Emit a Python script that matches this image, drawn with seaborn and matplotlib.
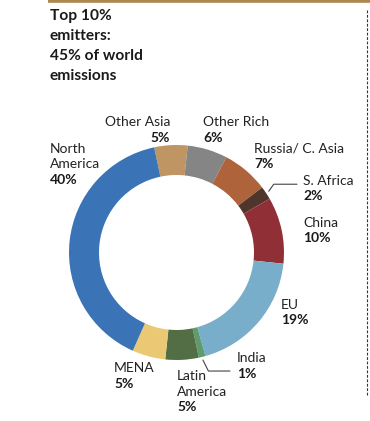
import numpy as np
import matplotlib
matplotlib.use("Agg")
import matplotlib.pyplot as plt
import seaborn as sns

# Data (shares of emissions of the top 10% emitters, clockwise from top)
regions = ["Other Asia", "Other Rich", "Russia/ C. Asia", "S. Africa", "China",
           "EU", "India", "Latin America", "MENA", "North America"]
shares = [5, 6, 7, 2, 10, 19, 1, 5, 5, 40]
colors = ["#bf9563", "#858585", "#ae633a", "#4f352b", "#902f35",
          "#78aec9", "#5f9a70", "#536d44", "#ebc974", "#3b74b6"]

title_lines = ["Top 10%", "emitters:", "45% of world", "emissions"]

# label text lines per region (name lines, then percentage)
label_lines = {
    "Other Asia": ["Other Asia"],
    "Other Rich": ["Other Rich"],
    "Russia/ C. Asia": ["Russia/ C. Asia"],
    "S. Africa": ["S. Africa"],
    "China": ["China"],
    "EU": ["EU"],
    "India": ["India"],
    "Latin America": ["Latin", "America"],
    "MENA": ["MENA"],
    "North America": ["North", "America"],
}

# layout (pixels): x anchor, first baseline, alignment
label_pos = {
    "Other Asia": (170, 126, "right"),
    "Other Rich": (203, 126, "left"),
    "Russia/ C. Asia": (254, 152.5, "left"),
    "S. Africa": (303, 185, "left"),
    "China": (303, 227, "left"),
    "EU": (281, 309, "left"),
    "India": (237, 362, "left"),
    "Latin America": (177, 380, "left"),
    "MENA": (114, 372, "left"),
    "North America": (49.5, 153, "left"),
}
# leader lines: elbow offset from wedge edge, end x
leaders = {"S. Africa": (5, -7, 297), "India": (5.5, 11, 230)}

W, H = 370, 421
cx, cy, r_out, r_in = 176.5, 252.5, 107.5, 77.5
start = 102
line_h = 15.5

sns.set_theme(style="white")
plt.rcParams["font.family"] = ["Lato", "DejaVu Sans"]

fig = plt.figure(figsize=(W / 100, H / 100), dpi=100)
fig.patch.set_facecolor("white")

over = fig.add_axes([0, 0, 1, 1])
over.set_xlim(0, W)
over.set_ylim(H, 0)
over.axis("off")
over.patch.set_visible(False)

ax = fig.add_axes([(cx - r_out) / W, (H - cy - r_out) / H, 2 * r_out / W, 2 * r_out / H])
wedges, _ = ax.pie(shares, colors=sns.color_palette(colors), startangle=start,
                   counterclock=False, radius=1,
                   wedgeprops=dict(width=(r_out - r_in) / r_out, linewidth=0))
ax.set_xlim(-1, 1)
ax.set_ylim(-1, 1)
ax.set_aspect("equal")

# decorations
over.plot([48, W], [1.2, 1.2], color="#ad8752", lw=2.6, solid_capstyle="butt")
over.plot([367, 367], [10, 396], color="#333333", lw=0.8, ls=(0, (2.5, 1.5)))

# title
for i, t in enumerate(title_lines):
    over.text(50, 20 + i * 20, t, fontsize=11.2, fontweight="bold",
              color="#1a1a1a", va="baseline", ha="left")

# labels
for name, share, w in zip(regions, shares, wedges):
    x, y0, ha = label_pos[name]
    lines = label_lines[name]
    for i, t in enumerate(lines):
        over.text(x, y0 + i * line_h, t, fontsize=10, color="#222222",
                  va="baseline", ha=ha)
    over.text(x, y0 + len(lines) * line_h, f"{share}%", fontsize=10,
              fontweight="bold", color="#1a1a1a", va="baseline", ha=ha)
    if name in leaders:
        mid = np.deg2rad((w.theta1 + w.theta2) / 2)
        sx = cx + 1.03 * r_out * np.cos(mid)
        sy = cy - 1.03 * r_out * np.sin(mid)
        dx, dy, ex = leaders[name]
        over.plot([sx, sx + dx, ex], [sy, sy + dy, sy + dy], color="#444444", lw=0.8)

fig.savefig("out.png", dpi=100, facecolor="white")
